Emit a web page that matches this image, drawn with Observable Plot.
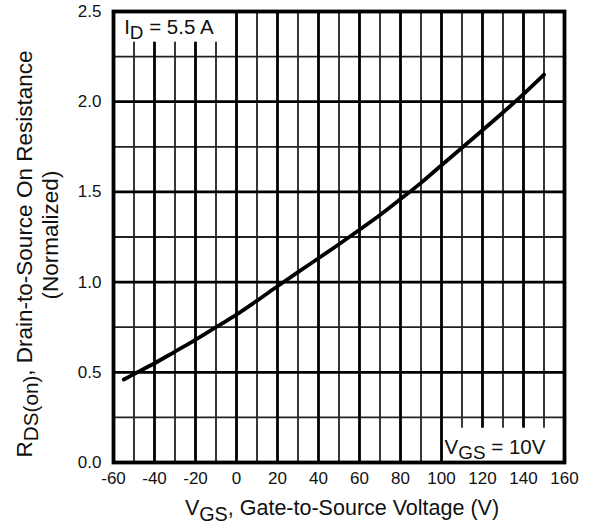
<!DOCTYPE html>
<html><head><meta charset="utf-8">
<script src="https://cdn.jsdelivr.net/npm/d3@7"></script>
<script src="https://cdn.jsdelivr.net/npm/@observablehq/plot@0.6"></script>
<style>
body{margin:0;background:#fff;}
#chart svg{display:block;}
</style>
</head><body><div id="chart"></div>
<script>
// Data
const vgs   = [-55, -50, -40, -30, -20, -10, 0, 10, 20, 30, 40, 50, 60, 70, 80, 90, 100, 110, 120, 130, 140, 150];
const rdsOn = [0.46, 0.49, 0.55, 0.615, 0.68, 0.75, 0.82, 0.897, 0.977, 1.055, 1.132, 1.21, 1.29, 1.372, 1.46, 1.55, 1.648, 1.745, 1.842, 1.94, 2.042, 2.15];

const xTicks = [-60, -40, -20, 0, 20, 40, 60, 80, 100, 120, 140, 160];
const xMinor = [-50, -30, -10, 10, 30, 50, 70, 90, 110, 130, 150];
const yTicks = [0, 0.5, 1.0, 1.5, 2.0, 2.5];
const yMinor = [0.25, 0.75, 1.25, 1.75, 2.25];

const noteLabels = ["I{D} = 5.5 A", "V{GS} = 10V"];
const noteX = [-54.8, 101.5];
const noteY = [2.41, 0.085];
const boxX1 = [-60, 101];
const boxX2 = [-2, 160];
const boxY1 = [2.33, 0];
const boxY2 = [2.5, 0.19];

const xTitle = "V{GS}, Gate-to-Source Voltage (V)";
const yTitle1 = "R{DS(on)}, Drain-to-Source On Resistance";
const yTitle2 = "(Normalized)";

const curve = vgs.map((v, i) => ({x: v, y: rdsOn[i]}));
const notes = noteLabels.map((t, i) => ({t, x: noteX[i], y: noteY[i]}));
const boxes = boxX1.map((v, i) => ({x1: v, x2: boxX2[i], y1: boxY1[i], y2: boxY2[i]}));

const FONT = "'Liberation Sans', Arial, Helvetica, sans-serif";

const plot = Plot.plot({
  width: 592, height: 525,
  marginLeft: 113, marginRight: 28, marginTop: 11, marginBottom: 63,
  style: {fontFamily: FONT, fontSize: "17px", color: "#111", background: "#fff"},
  x: {domain: [-60, 160], axis: null},
  y: {domain: [0, 2.5], axis: null},
  marks: [
    Plot.ruleX(xMinor, {stroke: "#222", strokeWidth: 1.8}),
    Plot.ruleY(yMinor, {stroke: "#222", strokeWidth: 1.8}),
    Plot.ruleX(xTicks, {stroke: "#000", strokeWidth: 2.8}),
    Plot.ruleY(yTicks, {stroke: "#000", strokeWidth: 2.8}),
    Plot.rect(boxes, {x1: "x1", x2: "x2", y1: "y1", y2: "y2", fill: "#fff", inset: 0}),
    Plot.line(curve, {x: "x", y: "y", curve: "monotone-x", stroke: "#000", strokeWidth: 3.8}),
    Plot.frame({stroke: "#000", strokeWidth: 3.8}),
    Plot.axisX(xTicks, {tickSize: 0, tickPadding: 9, fontSize: 17, tickFormat: d => String(d), label: null}),
    Plot.axisY(yTicks, {tickSize: 0, tickPadding: 12, fontSize: 17, tickFormat: d3.format(".1f"), label: null}),
    Plot.text(notes, {x: "x", y: "y", text: "t", textAnchor: "start", fontSize: 20.5, fill: "#111"})
  ]
});

document.getElementById("chart").appendChild(plot);
const svg = d3.select(plot);

// helper to render "{...}" as lowered subscripts
function richText(sel, str, subShift) {
  sel.text(null);
  const parts = str.split(/(\{[^}]*\})/).filter(s => s.length);
  let lowered = false;
  parts.forEach(p => {
    if (p.startsWith("{")) {
      sel.append("tspan").attr("dy", subShift).attr("font-size", "0.92em").text(p.slice(1, -1));
      lowered = true;
    } else {
      const t = sel.append("tspan").text(p);
      if (lowered) { t.attr("dy", -subShift); lowered = false; }
    }
  });
}

svg.selectAll("text").each(function() {
  const el = d3.select(this);
  const s = el.text();
  if (s.includes("{")) richText(el, s, 5);
});

// Axis titles
const xt = svg.append("text")
  .attr("x", 342).attr("y", 515)
  .attr("text-anchor", "middle")
  .attr("font-family", FONT).attr("font-size", 21.5).attr("fill", "#111");
richText(xt, xTitle, 6);

const yt1 = svg.append("text")
  .attr("transform", "translate(32,254) rotate(-90)")
  .attr("text-anchor", "middle")
  .attr("font-family", FONT).attr("font-size", 22.5).attr("fill", "#111");
richText(yt1, yTitle1, 6);

svg.append("text")
  .attr("transform", "translate(58,235) rotate(-90)")
  .attr("text-anchor", "middle")
  .attr("font-family", FONT).attr("font-size", 22.5).attr("fill", "#111")
  .text(yTitle2);
</script>
</body></html>
